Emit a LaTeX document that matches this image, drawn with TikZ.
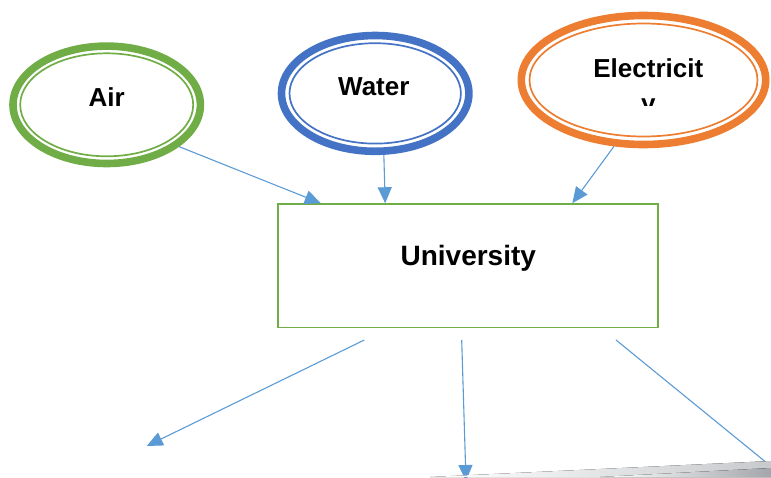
\documentclass[tikz,border=0pt]{standalone}
\usepackage{fontspec}
\setmainfont{Liberation Sans}
\usetikzlibrary{shapes.geometric,arrows.meta,positioning}

\definecolor{airgreen}{HTML}{70AD47}
\definecolor{waterblue}{HTML}{4472C4}
\definecolor{elecorange}{HTML}{ED7D31}
\definecolor{arrowblue}{HTML}{5B9BD5}
\definecolor{wedgegray}{HTML}{A3A6AB}

\tikzset{
  ring/.style={ellipse, inner sep=0pt, line width=7.6pt},
  inring/.style={line width=1.7pt},
  lbl/.style={anchor=base, inner sep=0pt, font=\bfseries\fontsize{26}{31}\selectfont},
  flow/.style={draw=arrowblue, line width=1.1pt, -{Triangle[length=16pt,width=14pt]}},
}

\begin{document}
\begin{tikzpicture}[x=1pt,y=-1pt]
	\clip (0,0) rectangle (771,477);

	% sources
	\node (air)[ring, draw=airgreen, minimum width=187.4pt, minimum height=117.4pt] at (106.7,104.8) {};
	\node (water)[ring, draw=waterblue, minimum width=187.4pt, minimum height=115.8pt] at (375.2,93.4) {};
	\node (elec)[ring, draw=elecorange, minimum width=244.4pt, minimum height=129pt] at (643.5,80) {};

	\draw[inring, airgreen] (air.center) ellipse [x radius=86.5, y radius=51.5];
	\draw[inring, waterblue] (water.center) ellipse [x radius=85.7, y radius=50.2];
	\draw[inring, elecorange] (elec.center) ellipse [x radius=114, y radius=56.5];

	\node (airtxt)[lbl] at (106.7,106.7) {Air};
	\node (watertxt)[lbl] at (373.8,95.7) {Water};
	\node (electxt)[lbl] at (648.3,77.7) {Electricit};
	\begin{scope}
		\clip (600,90) rectangle (700,105);
		\node (electxtb)[lbl] at (648.3,112) {y};
	\end{scope}

	% university
	\node (uni)[draw=airgreen, line width=1.8pt, minimum width=380pt, minimum height=123.3pt] at (468.2,265.8) {};
	\node (unitxt)[lbl, font=\bfseries\fontsize{28}{33}\selectfont] at (468.3,265) {University};

	\draw[flow] (air.-30) to (uni.157);
	\draw[flow] (water.-82) to (uni.143);
	\draw[flow] (elec.246) to (uni.31);

	% outputs
	\coordinate (o1) at (364.3,340);
	\coordinate (o2) at (461.7,340);
	\coordinate (o3) at (616,340);
	\coordinate (t1) at (146.7,446);
	\coordinate (t2) at (466,481);
	\coordinate (t3) at (800,490);

	\draw[flow] (o1) to (t1);
	\draw[flow] (o2) to (t2);
	\draw[flow] (o3) to (t3);

	% grey shape cut off at the bottom
	\fill[left color=white, right color=wedgegray!60] (430,477) -- (771,461) -- (771,477) -- cycle;
	\fill[left color=white, right color=wedgegray] (600,477) -- (771,468) -- (771,477) -- cycle;
\end{tikzpicture}
\end{document}
